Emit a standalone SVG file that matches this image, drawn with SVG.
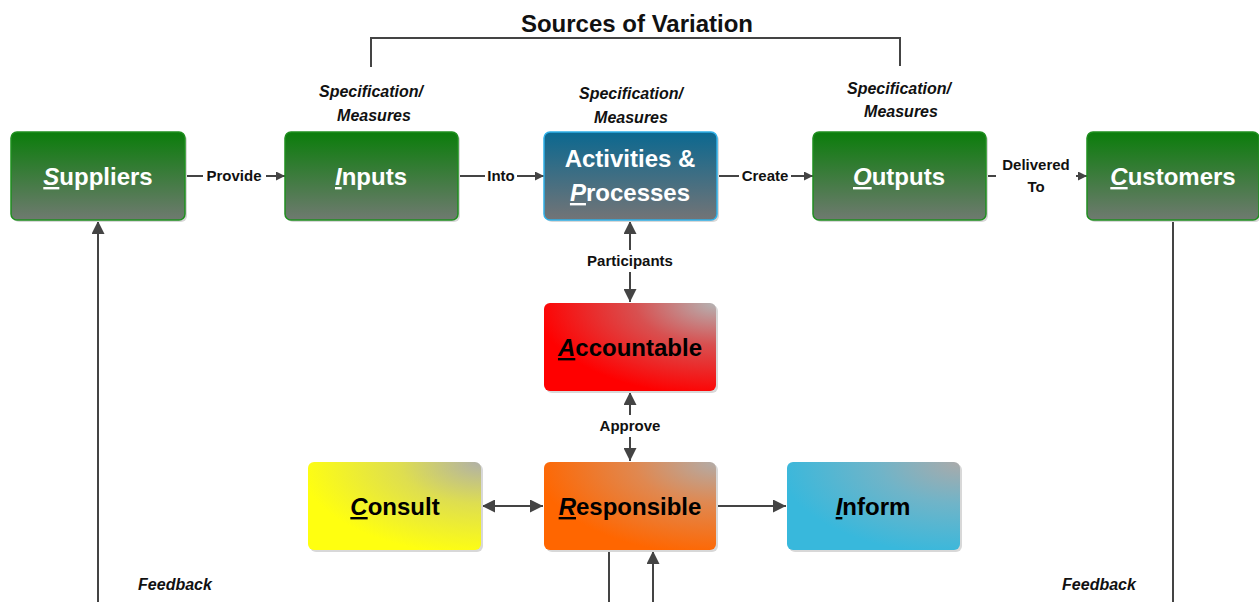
<svg xmlns="http://www.w3.org/2000/svg" width="1259" height="602" viewBox="0 0 1259 602">
<defs>
<linearGradient id="gGreen" x1="0" y1="0" x2="0" y2="1"><stop offset="0" stop-color="#0b7d0b"/><stop offset="1" stop-color="#6f7a70"/></linearGradient>
<linearGradient id="gBlue" x1="0" y1="0" x2="0" y2="1"><stop offset="0" stop-color="#0b6890"/><stop offset="1" stop-color="#737476"/></linearGradient>
<radialGradient id="gRed" cx="1" cy="0" r="1.05"><stop offset="0" stop-color="#b4b4b4"/><stop offset="0.45" stop-color="#d85050"/><stop offset="1" stop-color="#ff0000"/></radialGradient>
<radialGradient id="gYellow" cx="1" cy="0" r="1.05"><stop offset="0" stop-color="#b0b0a8"/><stop offset="0.45" stop-color="#dede50"/><stop offset="1" stop-color="#ffff10"/></radialGradient>
<radialGradient id="gOrange" cx="1" cy="0" r="1.05"><stop offset="0" stop-color="#b2aca8"/><stop offset="0.45" stop-color="#e08850"/><stop offset="1" stop-color="#ff6600"/></radialGradient>
<radialGradient id="gCyan" cx="1" cy="0" r="1.05"><stop offset="0" stop-color="#aaaaaa"/><stop offset="0.45" stop-color="#70b4c8"/><stop offset="1" stop-color="#38b8dc"/></radialGradient>
<marker id="ahs" viewBox="0 0 10 10" refX="10" refY="5" markerWidth="9" markerHeight="9" markerUnits="userSpaceOnUse" orient="auto-start-reverse"><path d="M0,0 L10,5 L0,10 z" fill="#444"/></marker>
<marker id="ahb" viewBox="0 0 10 10" refX="10" refY="5" markerWidth="13" markerHeight="13" markerUnits="userSpaceOnUse" orient="auto-start-reverse"><path d="M0,0 L10,5 L0,10 z" fill="#444"/></marker>
</defs>
<style>
text{font-family:"Liberation Sans",Arial,sans-serif;font-weight:bold}
.title{font-size:24px;fill:#111}
.spec{font-size:16px;font-style:italic;fill:#111}
.lbl{font-size:15px;fill:#111}
.wt{font-size:24px;fill:#fff}
.bt{font-size:24px;fill:#000}
.init{font-style:italic;text-decoration:underline}
.shadow{fill:#d8d8d8}
.line{stroke:#444;stroke-width:2;fill:none}
.bg{fill:#fff}
</style>

<text class="title" x="637" y="32" text-anchor="middle">Sources of Variation</text>
<path class="line" d="M371,67 V38 H900 V66"/>

<text class="spec" x="371" y="97" text-anchor="middle">Specification/</text>
<text class="spec" x="374" y="121" text-anchor="middle">Measures</text>
<text class="spec" x="631" y="99" text-anchor="middle">Specification/</text>
<text class="spec" x="631" y="123" text-anchor="middle">Measures</text>
<text class="spec" x="899" y="94" text-anchor="middle">Specification/</text>
<text class="spec" x="901" y="117" text-anchor="middle">Measures</text>

<g id="connectors">
<line class="line" x1="185" y1="176" x2="285" y2="176" marker-end="url(#ahs)"/>
<rect class="bg" x="203" y="166" width="63" height="20"/>
<text class="lbl" x="234" y="181" text-anchor="middle">Provide</text>
<line class="line" x1="458" y1="176" x2="544" y2="176" marker-end="url(#ahs)"/>
<rect class="bg" x="485" y="166" width="32" height="20"/>
<text class="lbl" x="501" y="181" text-anchor="middle">Into</text>
<line class="line" x1="717" y1="176" x2="813" y2="176" marker-end="url(#ahs)"/>
<rect class="bg" x="739" y="166" width="52" height="20"/>
<text class="lbl" x="765" y="181" text-anchor="middle">Create</text>
<line class="line" x1="986" y1="176" x2="1087" y2="176" marker-end="url(#ahs)"/>
<rect class="bg" x="996" y="152" width="80" height="46"/>
<text class="lbl" x="1036" y="170" text-anchor="middle">Delivered</text>
<text class="lbl" x="1036" y="192" text-anchor="middle">To</text>

<line class="line" x1="630" y1="221" x2="630" y2="302" marker-start="url(#ahb)" marker-end="url(#ahb)"/>
<rect class="bg" x="578" y="250" width="104" height="22"/>
<text class="lbl" x="630" y="266" text-anchor="middle">Participants</text>
<line class="line" x1="630" y1="392" x2="630" y2="461" marker-start="url(#ahb)" marker-end="url(#ahb)"/>
<rect class="bg" x="592" y="415" width="76" height="22"/>
<text class="lbl" x="630" y="431" text-anchor="middle">Approve</text>

<line class="line" x1="482" y1="506" x2="543" y2="506" marker-start="url(#ahb)" marker-end="url(#ahb)"/>
<line class="line" x1="716" y1="506" x2="786" y2="506" marker-end="url(#ahb)"/>
<line class="line" x1="609" y1="550" x2="609" y2="602"/>
<line class="line" x1="653" y1="602" x2="653" y2="551" marker-end="url(#ahb)"/>

<line class="line" x1="98" y1="602" x2="98" y2="221" marker-end="url(#ahb)"/>
<line class="line" x1="1173" y1="220" x2="1173" y2="602"/>
<text class="spec" x="175" y="590" text-anchor="middle">Feedback</text>
<text class="spec" x="1099" y="590" text-anchor="middle">Feedback</text>
</g>

<g id="suppliers">
<rect class="shadow" x="13" y="134" width="174" height="88" rx="6"/>
<rect x="11" y="132" width="174" height="88" rx="6" fill="url(#gGreen)" stroke="#1f8f1f" stroke-width="1.5"/>
<text class="wt" x="98" y="185" text-anchor="middle"><tspan class="init">S</tspan>uppliers</text>
</g>
<g id="inputs">
<rect class="shadow" x="287" y="134" width="173" height="88" rx="6"/>
<rect x="285" y="132" width="173" height="88" rx="6" fill="url(#gGreen)" stroke="#1f8f1f" stroke-width="1.5"/>
<text class="wt" x="371" y="185" text-anchor="middle"><tspan class="init">I</tspan>nputs</text>
</g>
<g id="activities">
<rect class="shadow" x="546" y="134" width="173" height="88" rx="6"/>
<rect x="544" y="132" width="173" height="88" rx="6" fill="url(#gBlue)" stroke="#2fb0e8" stroke-width="1.5"/>
<text class="wt" x="630" y="167" text-anchor="middle" font-size="25">Activities &amp;</text>
<text class="wt" x="630" y="201" text-anchor="middle" font-size="25"><tspan class="init">P</tspan>rocesses</text>
</g>
<g id="outputs">
<rect class="shadow" x="815" y="134" width="173" height="88" rx="6"/>
<rect x="813" y="132" width="173" height="88" rx="6" fill="url(#gGreen)" stroke="#1f8f1f" stroke-width="1.5"/>
<text class="wt" x="899" y="185" text-anchor="middle"><tspan class="init">O</tspan>utputs</text>
</g>
<g id="customers">
<rect class="shadow" x="1089" y="134" width="172" height="88" rx="6"/>
<rect x="1087" y="132" width="172" height="88" rx="6" fill="url(#gGreen)" stroke="#1f8f1f" stroke-width="1.5"/>
<text class="wt" x="1173" y="185" text-anchor="middle"><tspan class="init">C</tspan>ustomers</text>
</g>
<g id="accountable">
<rect class="shadow" x="546" y="305" width="172" height="88" rx="6"/>
<rect x="544" y="303" width="172" height="88" rx="6" fill="url(#gRed)"/>
<text class="bt" x="630" y="356" text-anchor="middle"><tspan class="init">A</tspan>ccountable</text>
</g>
<g id="consult">
<rect class="shadow" x="310" y="464" width="173" height="88" rx="6"/>
<rect x="308" y="462" width="173" height="88" rx="6" fill="url(#gYellow)"/>
<text class="bt" x="395" y="515" text-anchor="middle"><tspan class="init">C</tspan>onsult</text>
</g>
<g id="responsible">
<rect class="shadow" x="546" y="464" width="172" height="88" rx="6"/>
<rect x="544" y="462" width="172" height="88" rx="6" fill="url(#gOrange)"/>
<text class="bt" x="630" y="515" text-anchor="middle"><tspan class="init">R</tspan>esponsible</text>
</g>
<g id="inform">
<rect class="shadow" x="789" y="464" width="173" height="88" rx="6"/>
<rect x="787" y="462" width="173" height="88" rx="6" fill="url(#gCyan)"/>
<text class="bt" x="873" y="515" text-anchor="middle"><tspan class="init">I</tspan>nform</text>
</g>
</svg>
